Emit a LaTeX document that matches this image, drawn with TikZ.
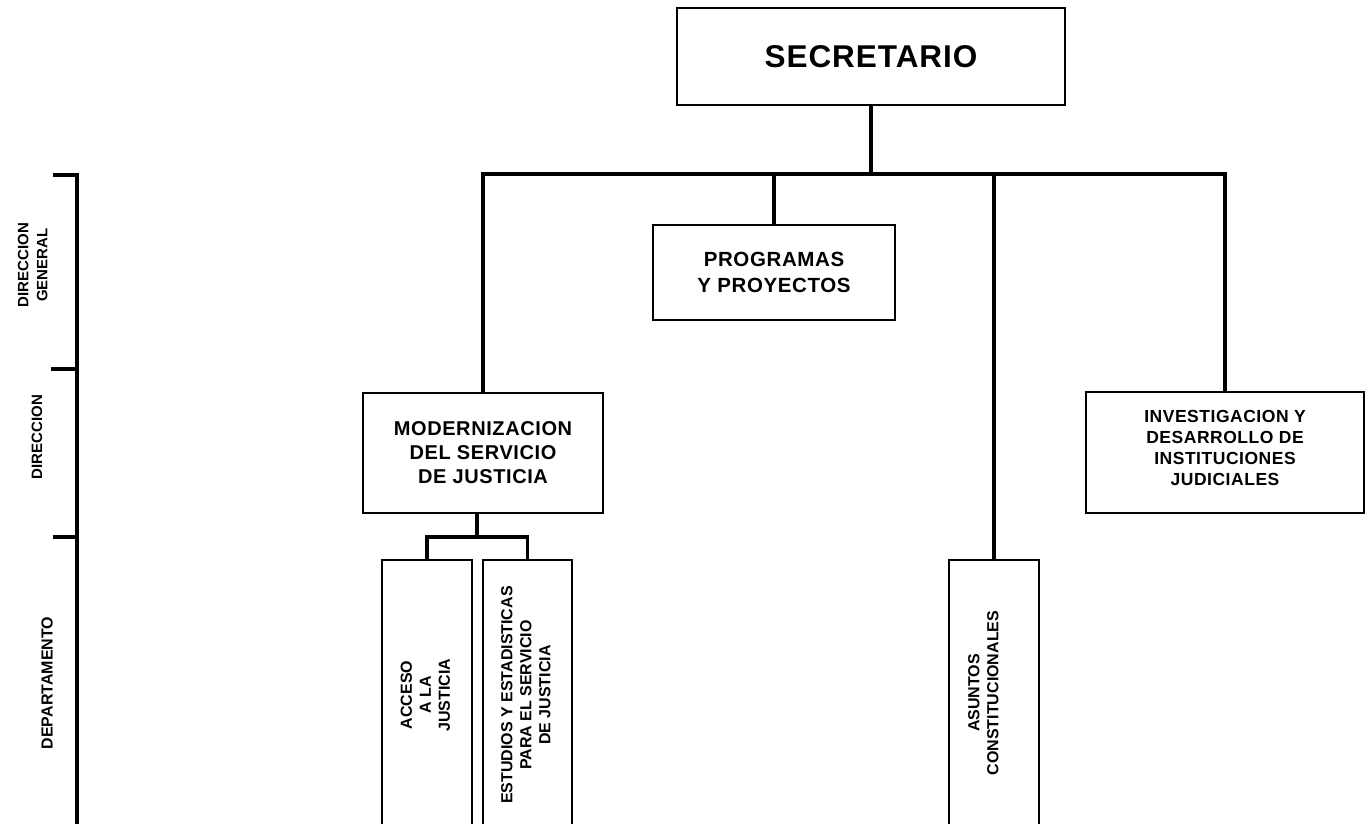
\documentclass[tikz,border=0pt]{standalone}
\usepackage{fontspec}
\setmainfont{Liberation Sans}
\newfontfamily\wide[LetterSpace=3]{Liberation Sans}
\usepackage{graphicx}
\usetikzlibrary{calc}
\begin{document}
\begin{tikzpicture}[x=1pt,y=-1pt,
  box/.style={draw=black, line width=2.2pt, fill=white, inner sep=0pt, align=center},
  vbox/.style={box, minimum width=90, minimum height=270, font=\fontsize{16}{19}\selectfont\bfseries},
  vtext/.style={inner sep=0pt, font=\fontsize{16}{19}\selectfont\bfseries},
  slabel/.style={inner sep=0pt, font=\fontsize{15}{19}\selectfont\bfseries},
  conn/.style={draw=black, line width=3.2pt, line join=miter}]
\useasboundingbox (0,0) rectangle (1366,823);
\clip (0,0) rectangle (1366,823);
% boxes
\node[box, minimum width=388, minimum height=97, font=\wide\fontsize{31.5}{36}\selectfont\bfseries] (sec) at (871,56.5) {SECRETARIO};
\node[box, minimum width=242, minimum height=95, font=\wide\fontsize{20.5}{26}\selectfont\bfseries] (prog) at (774,272.5) {PROGRAMAS\\Y PROYECTOS};
\node[box, minimum width=240, minimum height=120, font=\wide\fontsize{20}{24}\selectfont\bfseries] (mod) at (483,453) {MODERNIZACION\\DEL SERVICIO\\DE JUSTICIA};
\node[box, minimum width=278, minimum height=121, font=\wide\fontsize{17.5}{21}\selectfont\bfseries] (inv) at (1225,452.5) {INVESTIGACION Y\\DESARROLLO DE\\INSTITUCIONES\\JUDICIALES\\[-11pt]};
\node[vbox] (acc) at (427,695) {\rotatebox{90}{\begin{tabular}{@{}c@{}}ACCESO\\A LA\\JUSTICIA\end{tabular}}};
\node[vbox, minimum width=89] (est) at (527.5,695) {\rotatebox{90}{\begin{tabular}{@{}c@{}}ESTUDIOS Y ESTADISTICAS\\PARA EL SERVICIO\\DE JUSTICIA\end{tabular}}};
\node[vbox] (asu) at (994,695) {};
\node[vtext] (asut) at (985,693) {\rotatebox{90}{\begin{tabular}{@{}c@{}}ASUNTOS\\CONSTITUCIONALES\end{tabular}}};
% connectors
\coordinate (bus) at (0,174);
\draw[conn] (sec.south) -- (sec.south |- bus);
\draw[conn] (mod.north) -- (mod.north |- bus) -- (inv.north |- bus) -- (inv.north);
\draw[conn] (prog.north) -- (prog.north |- bus);
\draw[conn] (asu.north) -- (asu.north |- bus);
\coordinate (j) at (477,537);
\draw[conn] (j |- mod.south) -- (j);
\draw[conn] (acc.north) |- (j) -| (est.north);
% level scale
\coordinate (s0) at (77,175);
\coordinate (s1) at (77,369);
\coordinate (s2) at (77,537);
\coordinate (send) at (77,830);
\draw[conn] ($(s0)+(-24,0)$) -- (s0) -- (send);
\draw[conn] ($(s1)+(-26,0)$) -- (s1);
\draw[conn] ($(s2)+(-24,0)$) -- (s2);
\node[slabel] (l0) at (34,265) {\rotatebox{90}{\begin{tabular}{@{}c@{}}DIRECCION\\GENERAL\end{tabular}}};
\node[slabel] (l1) at (37,437) {\rotatebox{90}{DIRECCION}};
\node[slabel, font=\fontsize{16}{19}\selectfont\bfseries] (l2) at (47,683) {\rotatebox{90}{DEPARTAMENTO}};
\end{tikzpicture}
\end{document}
